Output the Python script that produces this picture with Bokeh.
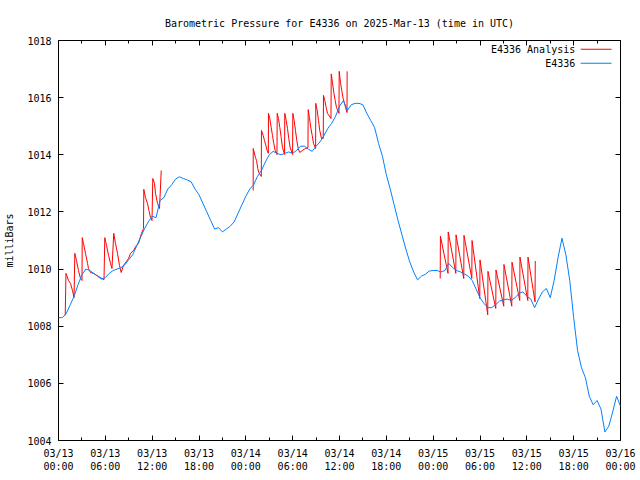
from bokeh.plotting import figure
from bokeh.models import FixedTicker, LinearAxis, Range1d, Label, BoxAnnotation
from bokeh.embed import file_html
from bokeh.resources import INLINE

title_text = "Barometric Pressure for E4336 on 2025-Mar-13 (time in UTC)"
y_label = "milliBars"
legend_red = "E4336 Analysis"
legend_blue = "E4336"

x_ticks = [0, 6, 12, 18, 24, 30, 36, 42, 48, 54, 60, 66, 72]
x_minor = [3, 9, 15, 21, 27, 33, 39, 45, 51, 57, 63, 69]
x_tick_labels = ["03/13\n00:00", "03/13\n06:00", "03/13\n12:00", "03/13\n18:00",
                 "03/14\n00:00", "03/14\n06:00", "03/14\n12:00", "03/14\n18:00",
                 "03/15\n00:00", "03/15\n06:00", "03/15\n12:00", "03/15\n18:00",
                 "03/16\n00:00"]
y_ticks = [1004, 1006, 1008, 1010, 1012, 1014, 1016, 1018]

# hours since 03/13 00:00 UTC
blue_h = [0, 0.5, 1, 1.5, 2, 2.5, 3, 3.5, 4, 4.5, 5, 5.5, 6, 6.5, 7, 7.5, 8, 8.5, 9, 9.5,
          10, 10.5, 11, 11.5, 12, 12.5, 13, 13.5, 14, 14.5, 15, 15.5, 16, 16.5, 17, 17.5,
          18, 18.5, 19, 19.5, 20, 20.5, 21, 21.5, 22, 22.5, 23, 23.5, 24, 24.5, 25, 25.5,
          26, 26.5, 27, 27.5, 28, 28.5, 29, 29.5, 30, 30.5, 31, 31.5, 32, 32.5, 33, 33.5,
          34, 34.5, 35, 35.5, 36, 36.5, 37, 37.5, 38, 38.5, 39, 39.5, 40, 40.5, 41, 41.5,
          42, 42.5, 43, 43.5, 44, 44.5, 45, 45.5, 46, 46.5, 47, 47.5, 48, 48.5, 49, 49.5,
          50, 50.5, 51, 51.5, 52, 52.5, 53, 53.5, 54, 54.5, 55, 55.5, 56, 56.5, 57, 57.5,
          58, 58.5, 59, 59.5, 60, 60.5, 61, 61.5, 62, 62.5, 63, 63.5, 64, 64.5, 65, 65.5,
          66, 66.5, 67, 67.5, 68, 68.5, 69, 69.5, 70, 70.5, 71, 71.5, 72]
blue_p = [1008.3, 1008.3, 1008.45, 1008.75, 1009.05, 1009.45, 1009.8, 1010.0, 1009.95, 1009.85,
          1009.75, 1009.65, 1009.7, 1009.85, 1009.95, 1010.0, 1010.05, 1010.15, 1010.33, 1010.5,
          1010.8, 1011.1, 1011.4, 1011.65, 1011.85, 1011.8, 1012.4, 1012.5, 1012.8, 1012.95,
          1013.15, 1013.23, 1013.17, 1013.12, 1013.05, 1012.8, 1012.6, 1012.3, 1012.0, 1011.7,
          1011.4, 1011.45, 1011.3, 1011.4, 1011.5, 1011.65, 1011.95, 1012.25, 1012.55, 1012.8,
          1012.95, 1013.25, 1013.45, 1013.75, 1014.0, 1014.12, 1014.05, 1014.0, 1014.05, 1014.1,
          1014.05, 1014.15, 1014.3, 1014.3, 1014.2, 1014.12, 1014.3, 1014.45, 1014.67, 1014.92,
          1015.1, 1015.35, 1015.7, 1015.9, 1015.55, 1015.75, 1015.8, 1015.8, 1015.75, 1015.45,
          1015.2, 1014.95, 1014.4, 1013.95, 1013.3, 1012.8, 1012.25, 1011.7, 1011.2, 1010.7,
          1010.25, 1009.9, 1009.62, 1009.75, 1009.82, 1009.93, 1009.95, 1009.95, 1009.9, 1009.95,
          1010.2, 1010.05, 1009.95, 1009.9, 1009.83, 1009.75, 1009.6, 1009.3, 1009.0, 1008.8,
          1008.65, 1008.65, 1008.75, 1008.88, 1008.92, 1008.95, 1008.9, 1009.0, 1009.15, 1009.2,
          1009.05, 1008.95, 1008.65, 1008.95, 1009.2, 1009.32, 1009.0, 1009.6, 1010.4, 1011.08,
          1010.5, 1009.6, 1008.3, 1007.15, 1006.55, 1006.2, 1005.55, 1005.25, 1005.4, 1005.1,
          1004.3, 1004.5, 1005.0, 1005.55, 1005.2]

red1_h = [0.86, 0.96, 1.28, 1.54, 1.79, 1.99, 2.09, 2.31, 2.56, 2.82, 3.01, 3.04, 3.2, 3.46,
          3.72, 3.84, 4.1, 4.48, 5.38, 5.83, 5.93, 6.15, 6.41, 6.66, 6.85, 7.08, 7.3, 7.56,
          7.81, 8.03, 8.33, 8.71, 8.97, 9.22, 9.61, 9.99, 10.25, 10.63, 10.89, 10.93, 11.14,
          11.4, 11.59, 11.79, 11.98, 12.08, 12.3, 12.43, 12.68, 12.94, 13.16]
red1_p = [1008.38, 1009.85, 1009.6, 1009.5, 1009.25, 1009.0, 1010.55, 1010.3, 1009.95, 1009.67,
          1009.6, 1011.1, 1010.9, 1010.55, 1010.2, 1010.02, 1009.88, 1009.85, 1009.7, 1009.63,
          1011.1, 1010.83, 1010.48, 1010.2, 1010.02, 1011.25, 1010.9, 1010.55, 1010.13, 1009.88,
          1010.13, 1010.27, 1010.37, 1010.55, 1010.65, 1010.83, 1010.9, 1011.25, 1011.42, 1012.79,
          1012.5, 1012.3, 1012.05, 1011.8, 1011.7, 1013.17, 1013.0, 1012.65, 1012.3, 1012.12,
          1013.45]

red2_h = [24.94, 24.95, 25.24, 25.37, 25.53, 25.66, 25.98, 26.0, 26.22, 26.39, 26.56, 26.73,
          26.88, 26.9, 27.07, 27.25, 27.41, 27.58, 27.76, 27.99, 28.02, 28.18, 28.35, 28.53,
          28.7, 28.96, 28.99, 29.17, 29.34, 29.5, 29.68, 29.99, 30.02, 30.19, 30.36, 30.53,
          30.71, 30.91, 31.22, 31.64, 31.96, 31.99, 32.15, 32.32, 32.5, 32.67, 32.94, 32.96,
          33.14, 33.31, 33.47, 33.69, 33.92, 33.95, 34.12, 34.29, 34.46, 34.91, 34.94, 35.1,
          35.27, 35.45, 35.61, 35.93, 35.96, 36.13, 36.29, 36.47, 36.64, 36.96, 36.98]
red2_p = [1012.75, 1014.22, 1013.9, 1013.8, 1013.52, 1013.38, 1013.24, 1014.85, 1014.68, 1014.5,
          1014.33, 1014.15, 1014.05, 1015.45, 1015.27, 1014.96, 1014.68, 1014.4, 1014.15, 1014.01,
          1015.45, 1015.27, 1014.96, 1014.6, 1014.25, 1014.01, 1015.45, 1015.2, 1014.92, 1014.57,
          1014.25, 1014.01, 1015.45, 1015.2, 1014.85, 1014.5, 1014.22, 1014.08, 1014.15, 1014.22,
          1014.25, 1015.58, 1015.3, 1014.96, 1014.68, 1014.4, 1014.22, 1015.8, 1015.55, 1015.2,
          1014.85, 1014.57, 1014.57, 1016.08, 1015.9, 1015.66, 1015.45, 1015.27, 1016.83, 1016.53,
          1016.18, 1015.9, 1015.66, 1015.45, 1016.92, 1016.53, 1016.25, 1015.97, 1015.8, 1015.48,
          1016.92]

red3_h = [48.9, 48.93, 49.9, 49.93, 50.9, 50.93, 51.92, 51.95, 52.95, 52.98, 53.97, 54.0,
          54.99, 55.02, 56.02, 56.05, 57.04, 57.07, 58.07, 58.1, 59.09, 59.12, 60.12, 60.15,
          61.05, 61.08]
red3_p = [1009.67, 1011.15, 1009.85, 1011.3, 1009.85, 1011.2, 1009.67, 1011.18, 1009.67, 1011.0,
          1008.97, 1010.32, 1008.4, 1009.92, 1008.62, 1009.97, 1008.7, 1010.16, 1008.7, 1010.24,
          1008.9, 1010.42, 1008.9, 1010.42, 1008.85, 1010.28]

RED = "#ff0000"
BLUE = "#0080ff"
FONT = "DejaVu Sans Mono"
FS = "10px"

p = figure(width=640, height=480, output_backend="svg", toolbar_location=None,
           x_range=Range1d(0, 72), y_range=Range1d(1004, 1018),
           min_border_left=58, min_border_right=20, min_border_top=40, min_border_bottom=40,
           background_fill_color="white", border_fill_color="white")
p.title.text = title_text
p.title.align = "center"
p.title.text_font = FONT
p.title.text_font_size = FS
p.title.text_font_style = "normal"
p.title.text_color = "black"
p.title.standoff = 24
p.grid.visible = False
p.outline_line_color = "black"

for seg_h, seg_p in ((red1_h, red1_p), (red2_h, red2_p), (red3_h, red3_p)):
    p.line(seg_h, seg_p, line_color=RED, line_width=1)
p.line(blue_h, blue_p, line_color=BLUE, line_width=1)

top_axis = LinearAxis()
right_axis = LinearAxis()
p.add_layout(top_axis, "above")
p.add_layout(right_axis, "right")

bottom_axis = p.below[0]
left_axis = p.left[0]

xt = FixedTicker(ticks=x_ticks, minor_ticks=x_minor)
yt = FixedTicker(ticks=y_ticks)
for ax in (bottom_axis, top_axis):
    ax.ticker = xt
for ax in (left_axis, right_axis):
    ax.ticker = yt
bottom_axis.major_label_overrides = {t: s for t, s in zip(x_ticks, x_tick_labels)}

for ax in (bottom_axis, top_axis, left_axis, right_axis):
    ax.major_tick_in = 5
    ax.major_tick_out = 0
    ax.minor_tick_in = 3
    ax.minor_tick_out = 0
    ax.axis_line_color = None
    ax.major_tick_line_color = "black"
    ax.minor_tick_line_color = "black"
    ax.major_label_text_font = FONT
    ax.major_label_text_font_size = FS
    ax.major_label_text_color = "black"
for ax in (left_axis, right_axis):
    ax.minor_tick_line_color = None
for ax in (top_axis, right_axis):
    ax.major_label_text_color = None
    ax.major_label_standoff = 0

left_axis.axis_label = y_label
left_axis.axis_label_text_font = FONT
left_axis.axis_label_text_font_size = FS
left_axis.axis_label_text_font_style = "normal"
left_axis.axis_label_text_color = "black"
left_axis.axis_label_standoff = 9
left_axis.major_label_standoff = 7
bottom_axis.major_label_standoff = 7

# gnuplot-style key (text then line sample), top right inside the frame
key_text_x = 66.2
key_line_x0, key_line_x1 = 66.9, 70.85
key_rows = [(legend_red, RED, 1017.69), (legend_blue, BLUE, 1017.2)]
for txt, col, yy in key_rows:
    p.add_layout(Label(x=key_text_x, y=yy, text=txt,
                       text_align="right", text_baseline="middle", text_font=FONT,
                       text_font_size=FS, text_color="black"))
    p.add_layout(BoxAnnotation(left=key_line_x0, right=key_line_x1,
                               bottom=yy - 0.017, top=yy + 0.017,
                               fill_color=col, fill_alpha=1.0, line_color=None))

open("out.html", "w").write(file_html(p, INLINE))
